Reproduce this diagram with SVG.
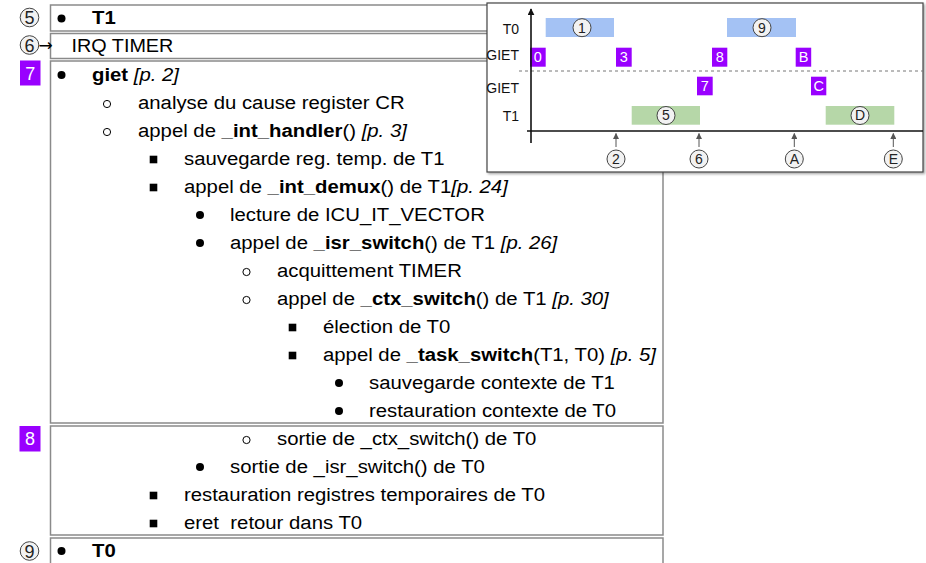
<svg xmlns="http://www.w3.org/2000/svg" width="926" height="563" viewBox="0 0 926 563">
  <style>
    .box { fill: #ffffff; stroke: #8a8a8a; stroke-width: 1.5; }
    .txt { font-family: "Liberation Sans", Arial, Helvetica, sans-serif; font-size: 18px; fill: #000; }
    .b { font-weight: bold; }
    .i { font-style: italic; }
    .step { fill: #f2f2f2; stroke: #444; stroke-width: 1; }
    .stepnum { font-family: "Liberation Sans", Arial, sans-serif; font-size: 18px; fill: #222; text-anchor: middle; }
    .tag { fill: #9900ff; }
    .tagnum { font-family: "Liberation Sans", Arial, sans-serif; fill: #ffffff; text-anchor: middle; }
    .lbl { font-family: "Liberation Sans", Arial, sans-serif; font-size: 14px; fill: #111; text-anchor: end; }
    .mini { fill: #f2f2f2; stroke: #444; stroke-width: 1; }
    .mininum { font-family: "Liberation Sans", Arial, sans-serif; font-size: 14px; fill: #222; text-anchor: middle; }
    .t0bar { fill: #a4c2f4; }
    .t1bar { fill: #b6d7a8; }
    .axis { stroke: #111; stroke-width: 1.6; fill: none; }
    .tick { stroke: #555; stroke-width: 1; fill: none; }
  </style>
  <defs>
    <circle id="dot" r="4" fill="#000"/>
    <circle id="ring" r="3.6" fill="none" stroke="#000" stroke-width="1"/>
    <rect id="sq" x="-3.8" y="-3.8" width="7.6" height="7.6" fill="#000"/>
    <marker id="axisHead" viewBox="0 0 10 10" refX="9" refY="5" markerWidth="7" markerHeight="7" orient="auto" markerUnits="userSpaceOnUse">
      <path d="M0,0 L10,5 L0,10 z" fill="#111"/>
    </marker>
    <marker id="tickHead" viewBox="0 0 10 10" refX="9" refY="5" markerWidth="6" markerHeight="6" orient="auto" markerUnits="userSpaceOnUse">
      <path d="M0,0 L10,5 L0,10 z" fill="#555"/>
    </marker>
    <filter id="shadow" x="-5%" y="-5%" width="110%" height="115%">
      <feDropShadow dx="1.5" dy="1.5" stdDeviation="1" flood-color="#000" flood-opacity="0.35"/>
    </filter>
  </defs>

  <!-- step markers on the left -->
  <g id="mark5"><circle class="step" cx="29.5" cy="17.5" r="9.3"/><text class="stepnum" x="29.5" y="24">5</text></g>
  <g id="mark6"><circle class="step" cx="29.5" cy="45" r="9.3"/><text class="stepnum" x="29.5" y="51.5">6</text></g>
  <g id="mark7"><rect class="tag" x="20" y="60.5" width="20.5" height="25"/><text class="tagnum" x="30.2" y="79.5" font-size="18">7</text></g>
  <g id="mark8"><rect class="tag" x="19.5" y="426" width="21" height="25.5"/><text class="tagnum" x="30" y="445" font-size="18">8</text></g>
  <g id="mark9"><circle class="step" cx="29.5" cy="551" r="9.3"/><text class="stepnum" x="29.5" y="557.5">9</text></g>

  <!-- task T1 -->
  <g id="blockT1">
    <rect class="box" x="50.5" y="5" width="612.5" height="26"/>
    <use href="#dot" x="61.5" y="18.5"/>
    <text class="txt b" transform="translate(92 24) scale(1.13 1)">T1</text>
  </g>

  <!-- timer interrupt -->
  <g id="blockIRQ">
    <rect class="box" x="50.5" y="33.5" width="612.5" height="25"/>
    <text x="38.5" y="51" font-family="'DejaVu Sans', sans-serif" font-size="17" fill="#000">→</text>
    <text class="txt" transform="translate(71.5 52) scale(1.1 1)">IRQ TIMER</text>
  </g>

  <!-- kernel entry -->
  <g id="blockGiet">
    <rect class="box" x="50.5" y="61" width="612.5" height="362"/>
    <use href="#dot" x="61.5" y="75"/>
    <text class="txt" transform="translate(92 81) scale(1.13 1)"><tspan class="b">giet</tspan> <tspan class="i">[p. 2]</tspan></text>
    <use href="#ring" x="107" y="104"/>
    <text class="txt" transform="translate(138 109) scale(1.13 1)">analyse du cause register CR</text>
    <use href="#ring" x="107" y="132"/>
    <text class="txt" transform="translate(138 137) scale(1.13 1)">appel de <tspan class="b">_int_handler</tspan>() <tspan class="i">[p. 3]</tspan></text>
    <use href="#sq" x="153.5" y="159.5"/>
    <text class="txt" transform="translate(184 165) scale(1.13 1)">sauvegarde reg. temp. de T1</text>
    <use href="#sq" x="153.5" y="187.5"/>
    <text class="txt" transform="translate(184 193) scale(1.13 1)">appel de <tspan class="b">_int_demux</tspan>() de T1<tspan class="i">[p. 24]</tspan></text>
    <use href="#dot" x="200" y="215"/>
    <text class="txt" transform="translate(230 221) scale(1.13 1)">lecture de ICU_IT_VECTOR</text>
    <use href="#dot" x="200" y="243"/>
    <text class="txt" transform="translate(230 249) scale(1.13 1)">appel de <tspan class="b">_isr_switch</tspan>() de T1 <tspan class="i">[p. 26]</tspan></text>
    <use href="#ring" x="246.5" y="272"/>
    <text class="txt" transform="translate(277 277) scale(1.13 1)">acquittement TIMER</text>
    <use href="#ring" x="246.5" y="300"/>
    <text class="txt" transform="translate(277 305) scale(1.13 1)">appel de <tspan class="b">_ctx_switch</tspan>() de T1 <tspan class="i">[p. 30]</tspan></text>
    <use href="#sq" x="292.5" y="327.5"/>
    <text class="txt" transform="translate(323 333) scale(1.13 1)">élection de T0</text>
    <use href="#sq" x="292.5" y="355.5"/>
    <text class="txt" transform="translate(323 361) scale(1.13 1)">appel de <tspan class="b">_task_switch</tspan>(T1, T0) <tspan class="i">[p. 5]</tspan></text>
    <use href="#dot" x="339" y="383"/>
    <text class="txt" transform="translate(369 389) scale(1.13 1)">sauvegarde contexte de T1</text>
    <use href="#dot" x="339" y="411"/>
    <text class="txt" transform="translate(369 417) scale(1.13 1)">restauration contexte de T0</text>
  </g>

  <!-- kernel exit -->
  <g id="blockExit">
    <rect class="box" x="50.5" y="426" width="612.5" height="109"/>
    <use href="#ring" x="246.5" y="440"/>
    <text class="txt" transform="translate(277 445) scale(1.13 1)">sortie de _ctx_switch() de T0</text>
    <use href="#dot" x="200" y="467"/>
    <text class="txt" transform="translate(230 473) scale(1.13 1)">sortie de _isr_switch() de T0</text>
    <use href="#sq" x="153.5" y="495.5"/>
    <text class="txt" transform="translate(184 501) scale(1.13 1)">restauration registres temporaires de T0</text>
    <use href="#sq" x="153.5" y="523.5"/>
    <text class="txt" xml:space="preserve" transform="translate(184 529) scale(1.13 1)">eret  retour dans T0</text>
  </g>

  <!-- task T0 -->
  <g id="blockT0">
    <rect class="box" x="50.5" y="538" width="612.5" height="40"/>
    <use href="#dot" x="61.5" y="551"/>
    <text class="txt b" transform="translate(92 557) scale(1.13 1)">T0</text>
  </g>

  <!-- timeline chart -->
  <g id="timeline">
    <rect x="487" y="3" width="436" height="169" fill="#ffffff" stroke="#444" stroke-width="1.2" filter="url(#shadow)"/>
    <text class="lbl" x="519" y="34">T0</text>
    <text class="lbl" x="519" y="59.5">GIET</text>
    <text class="lbl" x="519" y="92.5">GIET</text>
    <text class="lbl" x="519" y="120.5">T1</text>
    <line x1="519" y1="71" x2="923" y2="71" stroke="#777" stroke-width="1" stroke-dasharray="3 3"/>

    <g id="runT0a"><rect class="t0bar" x="545.7" y="18" width="68.3" height="19"/><circle class="mini" cx="582" cy="27.7" r="9"/><text class="mininum" x="582" y="32.6">1</text></g>
    <g id="runT0b"><rect class="t0bar" x="727" y="18" width="69" height="19"/><circle class="mini" cx="762" cy="27.7" r="9"/><text class="mininum" x="762" y="32.6">9</text></g>
    <g id="runT1a"><rect class="t1bar" x="631.7" y="106" width="68.3" height="18.7"/><circle class="mini" cx="666" cy="115.5" r="9"/><text class="mininum" x="666" y="120.4">5</text></g>
    <g id="runT1b"><rect class="t1bar" x="825.7" y="106" width="68.6" height="18.7"/><circle class="mini" cx="860" cy="115.5" r="9"/><text class="mininum" x="860" y="120.4">D</text></g>

    <g id="giet0"><rect class="tag" x="530" y="47.7" width="15.7" height="19"/><text class="tagnum" x="537.9" y="62.3" font-size="14.5">0</text></g>
    <g id="giet3"><rect class="tag" x="616" y="47.7" width="15.7" height="19"/><text class="tagnum" x="623.9" y="62.3" font-size="14.5">3</text></g>
    <g id="giet8"><rect class="tag" x="712" y="47.7" width="15.3" height="19"/><text class="tagnum" x="719.7" y="62.3" font-size="14.5">8</text></g>
    <g id="gietB"><rect class="tag" x="795.7" y="47.7" width="15.5" height="19"/><text class="tagnum" x="803.5" y="62.3" font-size="14.5">B</text></g>
    <g id="giet7"><rect class="tag" x="697" y="76.7" width="15.7" height="18.6"/><text class="tagnum" x="704.9" y="91.2" font-size="14.5">7</text></g>
    <g id="gietC"><rect class="tag" x="811" y="76.7" width="15.3" height="18.6"/><text class="tagnum" x="818.7" y="91.2" font-size="14.5">C</text></g>

    <g id="evt2"><circle class="mini" cx="616" cy="159" r="9"/><text class="mininum" x="616" y="163.9">2</text></g>
    <g id="evt6"><circle class="mini" cx="699" cy="159" r="9"/><text class="mininum" x="699" y="163.9">6</text></g>
    <g id="evtA"><circle class="mini" cx="794.3" cy="159" r="9"/><text class="mininum" x="794.3" y="163.9">A</text></g>
    <g id="evtE"><circle class="mini" cx="893.3" cy="159" r="9"/><text class="mininum" x="893.3" y="163.9">E</text></g>
  </g>

  <!-- axes and event ticks -->
  <g id="connectors">
    <line class="axis" x1="531" y1="143" x2="531" y2="9" marker-end="url(#axisHead)"/>
    <line class="axis" x1="527" y1="131" x2="923" y2="131"/>
    <line class="tick" x1="616" y1="147" x2="616" y2="133.5" marker-end="url(#tickHead)"/>
    <line class="tick" x1="699" y1="147" x2="699" y2="133.5" marker-end="url(#tickHead)"/>
    <line class="tick" x1="794.3" y1="147" x2="794.3" y2="133.5" marker-end="url(#tickHead)"/>
    <line class="tick" x1="893.3" y1="147" x2="893.3" y2="133.5" marker-end="url(#tickHead)"/>
  </g>
</svg>
